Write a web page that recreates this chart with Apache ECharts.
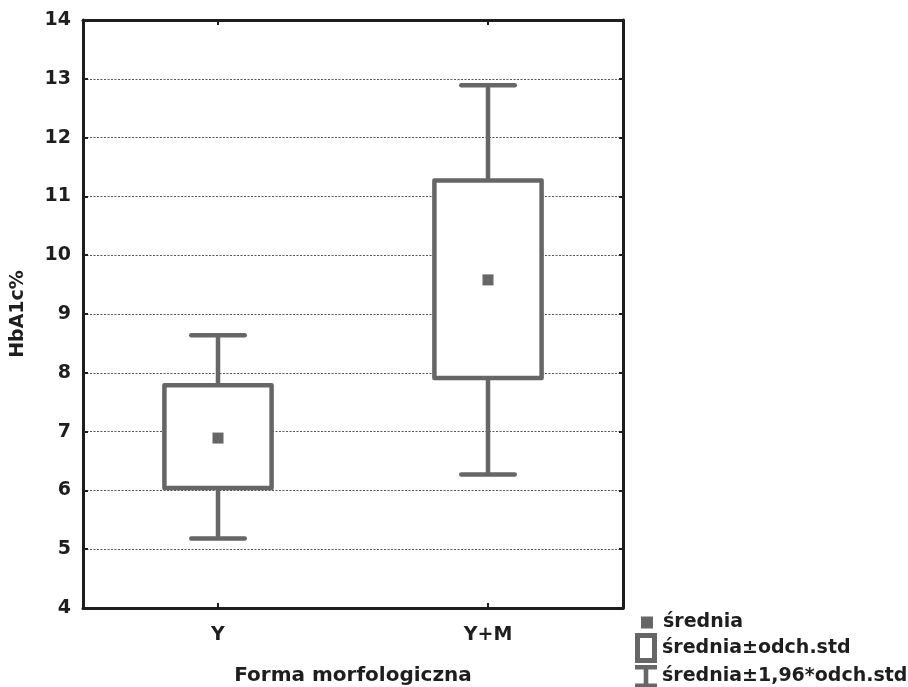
<!DOCTYPE html>
<html><head><meta charset="utf-8">
<script src="https://cdn.jsdelivr.net/npm/echarts@6/dist/echarts.min.js"></script>
<style>html,body{margin:0;padding:0;background:#fff}#c{width:908px;height:687px}</style>
</head><body><div id="c"></div>
<script>
const categories = ['Y', 'Y+M'];
const means = [6.89, 9.58];
const sdLow = [6.04, 7.91];
const sdHigh = [7.79, 11.27];
const ciLow = [5.18, 6.27];
const ciHigh = [8.64, 12.89];
const yMin = 4, yMax = 14, yInterval = 1;
const seriesNames = ['średnia', 'średnia±odch.std', 'średnia±1,96*odch.std'];
const xName = 'Forma morfologiczna';
const yName = 'HbA1c%';

const GRAY = '#666666';
const INK = '#1e1e1e';
const FONT = 'DejaVu Sans';

const chart = echarts.init(document.getElementById('c'), null, {renderer: 'canvas'});

const whiskerData = categories.map((c, i) => [i, ciLow[i], ciHigh[i]]);
const boxData = categories.map((c, i) => [i, sdLow[i], sdHigh[i]]);
const meanData = categories.map((c, i) => [i, means[i]]);

function renderWhisker(params, api) {
  const x = api.value(0);
  const lo = api.coord([x, api.value(1)]);
  const hi = api.coord([x, api.value(2)]);
  const band = api.size([1, 0])[0];
  const half = band * 0.099;
  const style = {stroke: GRAY, lineWidth: 4.5, lineCap: 'round', fill: null};
  return {type: 'group', children: [
    {type: 'line', shape: {x1: lo[0], y1: lo[1], x2: hi[0], y2: hi[1]}, style: {stroke: GRAY, lineWidth: 4.5, fill: null}},
    {type: 'line', shape: {x1: lo[0] - half, y1: lo[1], x2: lo[0] + half, y2: lo[1]}, style: style},
    {type: 'line', shape: {x1: hi[0] - half, y1: hi[1], x2: hi[0] + half, y2: hi[1]}, style: style}
  ]};
}
function renderBox(params, api) {
  const x = api.value(0);
  const lo = api.coord([x, api.value(1)]);
  const hi = api.coord([x, api.value(2)]);
  const band = api.size([1, 0])[0];
  const w = band * 0.397;
  return {type: 'rect', shape: {x: lo[0] - w / 2, y: hi[1], width: w, height: lo[1] - hi[1]},
    style: {fill: '#ffffff', stroke: GRAY, lineWidth: 4.5, lineJoin: 'round'}};
}

const txt = (size) => ({color: INK, fontFamily: FONT, fontWeight: 'bold', fontSize: size});

const legendBase = {orient: 'vertical', padding: 0, selectedMode: false, textStyle: txt(19), symbolKeepAspect: true};

const option = {
  backgroundColor: '#ffffff',
  animation: false,
  grid: {left: 83, right: 285, top: 20, bottom: 79, containLabel: false, outerBoundsMode: 'none'},
  xAxis: [
    {type: 'category', data: categories, position: 'bottom', boundaryGap: true,
      axisLine: {show: true, lineStyle: {color: INK, width: 3}},
      axisTick: {show: true, inside: true, alignWithLabel: true, length: 5, lineStyle: {color: INK, width: 2}},
      axisLabel: Object.assign({margin: 18}, txt(19)),
      splitLine: {show: false},
      name: xName, nameLocation: 'middle', nameGap: 58, nameTextStyle: txt(20)},
    {type: 'category', data: categories, position: 'top', boundaryGap: true,
      axisLine: {show: true, lineStyle: {color: INK, width: 3}},
      axisTick: {show: true, inside: true, alignWithLabel: true, length: 5, lineStyle: {color: INK, width: 2}},
      axisLabel: {show: false}, splitLine: {show: false}}
  ],
  yAxis: [
    {type: 'value', min: yMin, max: yMax, interval: yInterval, position: 'left',
      axisLine: {show: true, lineStyle: {color: INK, width: 3}},
      axisTick: {show: true, inside: true, length: 5, lineStyle: {color: INK, width: 2}},
      axisLabel: Object.assign({margin: 12}, txt(19)),
      splitLine: {show: true, lineStyle: {color: '#555555', width: 1, type: [2, 1.5]}},
      name: yName, nameLocation: 'middle', nameGap: 55, nameRotate: 90, nameTextStyle: txt(19)},
    {type: 'value', min: yMin, max: yMax, interval: yInterval, position: 'right',
      axisLine: {show: true, lineStyle: {color: INK, width: 3}},
      axisTick: {show: true, inside: true, length: 4, lineStyle: {color: INK, width: 2}},
      axisLabel: {show: false}, splitLine: {show: false}}
  ],
  legend: [
    Object.assign({}, legendBase, {left: 641, top: 613, itemWidth: 12, itemHeight: 12,
      textStyle: Object.assign({padding: [0, 0, 0, 5]}, txt(19)),
      data: [{name: seriesNames[0], icon: 'path://M0,0L10,0L10,10L0,10Z', itemStyle: {color: GRAY, borderWidth: 0, opacity: 1}}]}),
    Object.assign({}, legendBase, {left: 635, top: 633, itemWidth: 22, itemHeight: 30,
      data: [{name: seriesNames[1], icon: 'path://M0,0L22,0L22,30L0,30Z M5,5L5,25L17,25L17,5Z', itemStyle: {color: GRAY, borderWidth: 0, opacity: 1}}]}),
    Object.assign({}, legendBase, {left: 635, top: 665, itemWidth: 22, itemHeight: 23,
      data: [{name: seriesNames[2], icon: 'path://M0,0L22,0L22,4.5L13.3,4.5L13.3,18.5L22,18.5L22,23L0,23L0,18.5L8.7,18.5L8.7,4.5L0,4.5Z', itemStyle: {color: GRAY, borderWidth: 0, opacity: 1}}]})
  ],
  series: [
    {name: seriesNames[2], type: 'custom', xAxisIndex: 0, yAxisIndex: 0, z: 2,
      renderItem: renderWhisker, data: whiskerData, itemStyle: {color: GRAY}, encode: {x: 0, y: [1, 2]}},
    {name: seriesNames[1], type: 'custom', xAxisIndex: 0, yAxisIndex: 0, z: 3,
      renderItem: renderBox, data: boxData, itemStyle: {color: GRAY}, encode: {x: 0, y: [1, 2]}},
    {name: seriesNames[0], type: 'scatter', xAxisIndex: 0, yAxisIndex: 0, z: 4,
      symbol: 'rect', symbolSize: 11, data: meanData, itemStyle: {color: GRAY, opacity: 1}}
  ]
};
chart.setOption(option);
</script>
</body></html>
